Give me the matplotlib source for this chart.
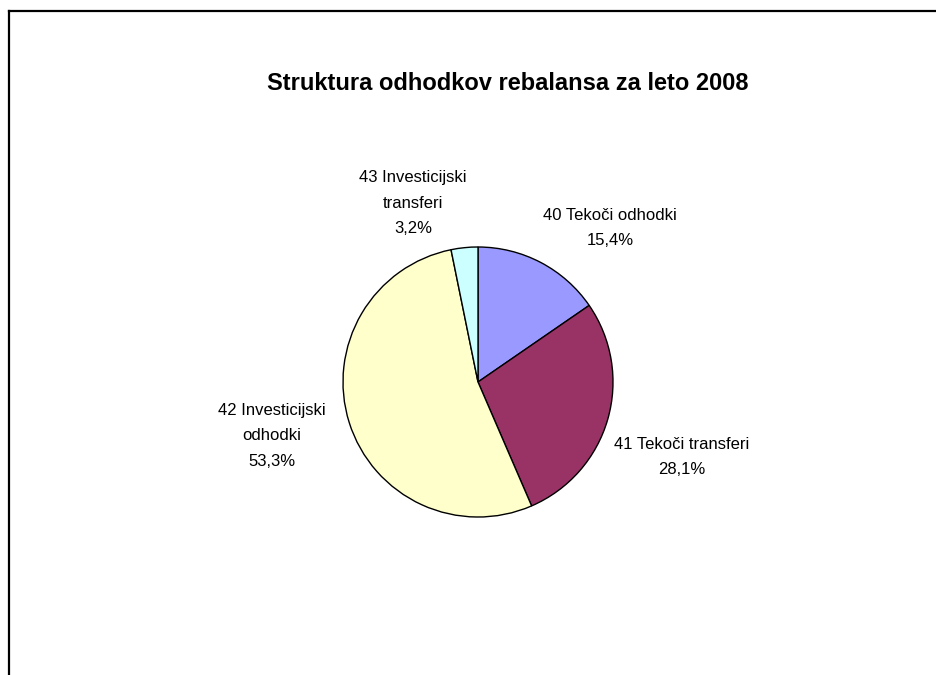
import matplotlib.pyplot as plt

# podatki
kategorije = ['40 Tekoči odhodki', '41 Tekoči transferi',
              '42 Investicijski\nodhodki', '43 Investicijski\ntransferi']
deleži = [15.4, 28.1, 53.3, 3.2]
barve = ['#9999FF', '#993366', '#FFFFCC', '#CCFFFF']
naslov = 'Struktura odhodkov rebalansa za leto 2008'

W, H = 936, 675
plt.rcParams['font.family'] = ['Liberation Sans', 'DejaVu Sans']

fig = plt.figure(figsize=(W / 100, H / 100), dpi=100)
ax = fig.add_axes([0, 0, 1, 1])

# pita (krog v pikslih, y od spodaj)
cx, cy, r = 478, H - 382, 135
ax.pie(deleži, colors=barve, startangle=90, counterclock=False,
       center=(cx, cy), radius=r, frame=True,
       wedgeprops=dict(edgecolor='black', linewidth=1.0))
ax.set_xlim(0, W)
ax.set_ylim(0, H)
ax.set_aspect('equal')
ax.axis('off')

# oznake
pozicije = [(610, 228), (682, 457), (272, 436), (413, 203)]
for ime, v, (x, y) in zip(kategorije, deleži, pozicije):
    txt = f"{ime}\n{v:.1f}%".replace('.', ',')
    ax.text(x, H - y, txt, ha='center', va='center', fontsize=12,
            linespacing=1.85, color='black')

ax.text(508, H - 84, naslov, ha='center', va='center',
        fontsize=17, fontweight='bold')

# okvir (samo zgoraj in levo)
ax.plot([8.5, W], [H - 10.5, H - 10.5], color='black', lw=1.6,
        solid_capstyle='projecting', clip_on=False)
ax.plot([8.5, 8.5], [H - 10.5, 0], color='black', lw=1.6,
        solid_capstyle='projecting', clip_on=False)

fig.savefig('out.png', dpi=100)
